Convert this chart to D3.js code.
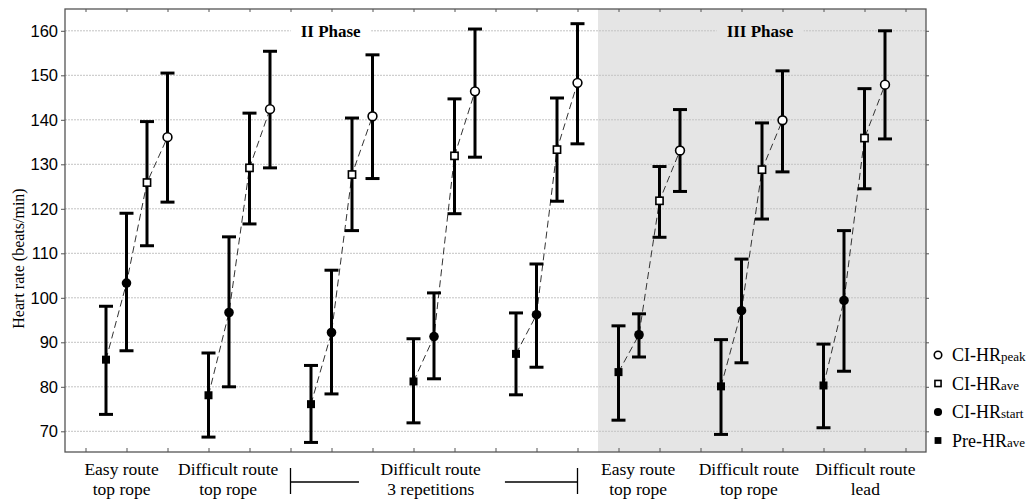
<!DOCTYPE html>
<html>
<head>
<meta charset="utf-8">
<script src="https://cdn.jsdelivr.net/npm/d3@7"></script>
<style>
  body { margin: 0; background: #fff; }
  svg text { fill: #000; }
</style>
</head>
<body>
<div id="grafik"></div>
<script>
// x slot where each condition's four points start (same unit as the 21 axis ticks)
const groupStart = [0.5, 3, 5.5, 8, 10.5, 13, 15.5, 18];
const seriesOffset = [0, 0.5, 1, 1.5];

const preMean   = [86.1, 78.1, 76.1, 81.2, 87.4, 83.3, 80.1, 80.3];
const preLow    = [73.8, 68.7, 67.5, 71.9, 78.2, 72.5, 69.3, 70.8];
const preHigh   = [98.1, 87.6, 84.8, 90.8, 96.6, 93.7, 90.6, 89.6];
const startMean = [103.3, 96.7, 92.2, 91.3, 96.2, 91.7, 97.1, 99.4];
const startLow  = [88.1, 80.0, 78.4, 81.8, 84.4, 86.7, 85.4, 83.5];
const startHigh = [119.0, 113.7, 106.2, 101.1, 107.6, 96.4, 108.7, 115.1];
const aveMean   = [125.9, 129.2, 127.7, 131.9, 133.3, 121.8, 128.8, 135.9];
const aveLow    = [111.7, 116.6, 115.1, 118.9, 121.7, 113.6, 117.7, 124.5];
const aveHigh   = [139.6, 141.5, 140.4, 144.7, 144.9, 129.5, 139.3, 147.0];
const peakMean  = [136.1, 142.4, 140.8, 146.4, 148.3, 133.1, 139.9, 147.9];
const peakLow   = [121.5, 129.2, 126.8, 131.6, 134.6, 123.9, 128.3, 135.7];
const peakHigh  = [150.5, 155.4, 154.6, 160.4, 161.6, 142.3, 151.0, 160.0];

const yTicks = [70, 80, 90, 100, 110, 120, 130, 140, 150, 160];
const xTicks = d3.range(0, 21);

const routeLabels = [
  ["Easy route", "top rope"],
  ["Difficult route", "top rope"],
  ["Difficult route", "3 repetitions"],
  ["Easy route", "top rope"],
  ["Difficult route", "top rope"],
  ["Difficult route", "lead"]
];
const routeLabelPos = [0.88, 3.48, 8.42, 13.48, 16.18, 19.02];

const phases = [
  {name: "II Phase", at: 5.98},
  {name: "III Phase", at: 16.45}
];
const phase3From = 12.5;

const legendItems = [
  {main: "CI-HR", sub: "peak", shape: "openCircle"},
  {main: "CI-HR", sub: "ave", shape: "openSquare"},
  {main: "CI-HR", sub: "start", shape: "dot"},
  {main: "Pre-HR", sub: "ave", shape: "square"}
];

// series in drawing order along each group: Pre, start, ave, peak
const series = [
  {mean: preMean, lo: preLow, hi: preHigh, shape: "square"},
  {mean: startMean, lo: startLow, hi: startHigh, shape: "dot"},
  {mean: aveMean, lo: aveLow, hi: aveHigh, shape: "openSquare"},
  {mean: peakMean, lo: peakLow, hi: peakHigh, shape: "openCircle"}
];

const serif = "'Liberation Serif', 'Times New Roman', serif";
const sans = "'Liberation Sans', Arial, sans-serif";

const W = 1031, H = 500;
const pl = 65, pr = 926, pt = 9, pb = 452;

const svg = d3.select("#grafik").append("svg")
  .attr("width", W).attr("height", H);

const x = d3.scaleLinear().domain([-0.5, 20.5]).range([pl, pr]);
const y = d3.scaleLinear().domain([65.35, 164.9]).range([pb, pt]);

// grey background of phase III
svg.append("rect")
  .attr("x", x(phase3From)).attr("y", pt)
  .attr("width", pr - x(phase3From)).attr("height", pb - pt)
  .attr("fill", "#e5e5e5");

// grid
svg.append("g").selectAll("line")
  .data(yTicks).enter().append("line")
  .attr("x1", pl).attr("x2", pr)
  .attr("y1", d => y(d)).attr("y2", d => y(d))
  .attr("stroke", "#c4c4c4")
  .attr("stroke-width", 1)
  .attr("stroke-dasharray", "2,1");

// phase titles with a gap in the grid line
const phaseG = svg.append("g");
phases.forEach(p => {
  const bg = phaseG.append("rect");
  const t = phaseG.append("text")
    .attr("x", x(p.at)).attr("y", y(160) + 6)
    .attr("text-anchor", "middle")
    .style("font-family", serif)
    .style("font-weight", "bold")
    .style("font-size", "17px")
    .text(p.name);
  const bb = t.node().getBBox();
  bg.attr("x", bb.x - 10).attr("y", y(160) - 2)
    .attr("width", bb.width + 20).attr("height", 4)
    .attr("fill", p.at > phase3From ? "#e5e5e5" : "#fff");
});

// axes (ticks only), frame drawn after
const axisStyle = g => {
  g.select(".domain").remove();
  g.selectAll(".tick line").attr("stroke", "#555");
};

svg.append("g")
  .attr("transform", `translate(${pl},0)`)
  .call(d3.axisLeft(y).tickValues(yTicks).tickSize(4).tickPadding(3))
  .call(axisStyle)
  .selectAll("text")
  .style("font-family", sans)
  .style("font-size", "16.5px");

svg.append("g")
  .attr("transform", `translate(${pr},0)`)
  .call(d3.axisRight(y).tickValues(yTicks).tickSize(3).tickFormat(""))
  .call(axisStyle);

svg.append("g")
  .attr("transform", `translate(0,${pt})`)
  .call(d3.axisTop(x).tickValues(xTicks).tickSize(-3).tickFormat(""))
  .call(axisStyle);

svg.append("g")
  .attr("transform", `translate(0,${pb})`)
  .call(d3.axisBottom(x).tickValues(xTicks).tickSize(-4).tickFormat(""))
  .call(axisStyle);

svg.append("rect")
  .attr("x", pl).attr("y", pt)
  .attr("width", pr - pl).attr("height", pb - pt)
  .attr("fill", "none")
  .attr("stroke", "#555")
  .attr("stroke-width", 1.3);

// y label
svg.append("text")
  .attr("transform", `translate(24,${(pt + pb) / 2 + 28}) rotate(-90)`)
  .attr("text-anchor", "middle")
  .style("font-family", serif)
  .style("font-size", "16px")
  .text("Heart rate (beats/min)");

// dashed connecting lines
const line = d3.line().x(d => x(d.x)).y(d => y(d.v));
groupStart.forEach((g, i) => {
  const pts = series.map((s, k) => ({x: g + seriesOffset[k], v: s.mean[i]}));
  svg.append("path")
    .attr("d", line(pts))
    .attr("fill", "none")
    .attr("stroke", "#333")
    .attr("stroke-width", 1)
    .attr("stroke-dasharray", "7,4");
});

// error bars
const cap = 7;
series.forEach((s, k) => {
  const bars = svg.append("g").selectAll("g")
    .data(groupStart.map((g, i) => ({x: g + seriesOffset[k], lo: s.lo[i], hi: s.hi[i]})))
    .enter().append("g")
    .attr("stroke", "#000")
    .attr("stroke-width", 3);
  bars.append("line")
    .attr("x1", d => x(d.x)).attr("x2", d => x(d.x))
    .attr("y1", d => y(d.lo)).attr("y2", d => y(d.hi));
  bars.append("line")
    .attr("x1", d => x(d.x) - cap).attr("x2", d => x(d.x) + cap)
    .attr("y1", d => y(d.hi)).attr("y2", d => y(d.hi));
  bars.append("line")
    .attr("x1", d => x(d.x) - cap).attr("x2", d => x(d.x) + cap)
    .attr("y1", d => y(d.lo)).attr("y2", d => y(d.lo));
});

function marker(sel, shape, scale) {
  scale = scale || 1;
  if (shape === "square") {
    sel.append("rect").attr("x", -4 * scale).attr("y", -4 * scale)
      .attr("width", 8 * scale).attr("height", 8 * scale).attr("fill", "#000");
  } else if (shape === "dot") {
    sel.append("circle").attr("r", 4.8 * scale).attr("fill", "#000");
  } else if (shape === "openSquare") {
    sel.append("rect").attr("x", -3.6 * scale).attr("y", -3.6 * scale)
      .attr("width", 7.2 * scale).attr("height", 7.2 * scale)
      .attr("fill", "#fff").attr("stroke", "#000").attr("stroke-width", 1.6);
  } else {
    sel.append("circle").attr("r", 4.4 * scale)
      .attr("fill", "#fff").attr("stroke", "#000").attr("stroke-width", 1.6);
  }
}

series.forEach((s, k) => {
  groupStart.forEach((g, i) => {
    const m = svg.append("g")
      .attr("transform", `translate(${x(g + seriesOffset[k])},${y(s.mean[i])})`);
    marker(m, s.shape);
  });
});

// x category labels
routeLabels.forEach((lab, i) => {
  const t = svg.append("text")
    .attr("x", x(routeLabelPos[i])).attr("y", 475)
    .attr("text-anchor", "middle")
    .style("font-family", serif)
    .style("font-size", "17.5px");
  t.append("tspan").attr("x", x(routeLabelPos[i])).text(lab[0]);
  t.append("tspan").attr("x", x(routeLabelPos[i])).attr("dy", 20).text(lab[1]);
});

// bracket for the 3 repetitions
const bracket = svg.append("g").attr("stroke", "#000").attr("stroke-width", 1.3);
bracket.append("line").attr("x1", x(5)).attr("x2", x(5)).attr("y1", 468).attr("y2", 494);
bracket.append("line").attr("x1", x(5)).attr("x2", x(6.67)).attr("y1", 482).attr("y2", 482);
bracket.append("line").attr("x1", x(10.23)).attr("x2", x(12)).attr("y1", 482).attr("y2", 482);
bracket.append("line").attr("x1", x(12)).attr("x2", x(12)).attr("y1", 468).attr("y2", 494);

// legend
const legend = svg.append("g").attr("transform", "translate(938,355)");
legendItems.forEach((d, i) => {
  const row = legend.append("g").attr("transform", `translate(0,${i * 28.5})`);
  marker(row, d.shape, 0.85);
  const t = row.append("text")
    .attr("x", 14).attr("y", 6)
    .style("font-family", serif)
    .style("font-size", "18px");
  t.append("tspan").text(d.main);
  t.append("tspan").style("font-size", "13px").text(d.sub);
});
</script>
</body>
</html>
